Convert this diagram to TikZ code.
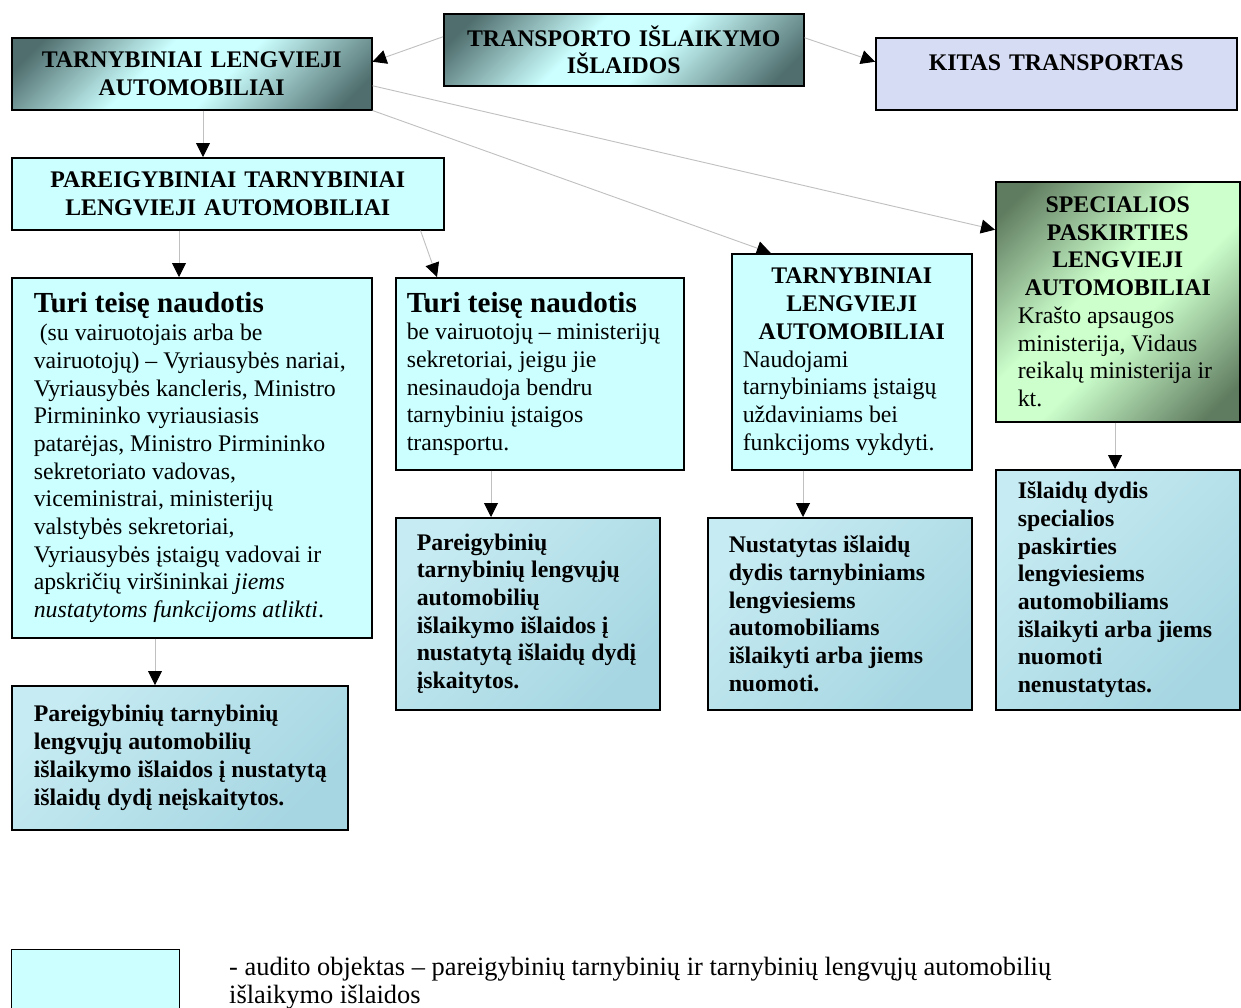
\documentclass[tikz,border=0pt]{standalone}
\usepackage{fontspec}
\setmainfont{Liberation Serif}
\usetikzlibrary{calc,positioning,arrows.meta,shapes}
\setlength{\parindent}{0pt}

\definecolor{cyanbox}{RGB}{204,255,255}
\definecolor{tealdark}{RGB}{80,110,110}
\definecolor{teallight}{RGB}{204,255,255}
\definecolor{greendark}{RGB}{96,124,96}
\definecolor{greenlight}{RGB}{204,255,204}
\definecolor{lavender}{RGB}{214,220,244}
\definecolor{waterlight}{RGB}{198,235,242}
\definecolor{waterdark}{RGB}{166,214,226}
\definecolor{connline}{RGB}{192,192,192}

\pgfdeclarehorizontalshading{tealband}{100bp}{color(0bp)=(tealdark); color(20bp)=(tealdark); color(42bp)=(teallight); color(56bp)=(teallight); color(80bp)=(tealdark); color(100bp)=(tealdark)}
\pgfdeclarehorizontalshading{greenband}{100bp}{color(0bp)=(greendark); color(20bp)=(greendark); color(44bp)=(greenlight); color(56bp)=(greenlight); color(80bp)=(greendark); color(100bp)=(greendark)}
\pgfdeclarehorizontalshading{waterband}{100bp}{color(0bp)=(waterlight); color(25bp)=(waterlight); color(75bp)=(waterdark); color(100bp)=(waterdark)}

\newcommand{\txtsize}{\fontsize{23.8pt}{27.7pt}\selectfont}
\newcommand{\headsize}{\fontsize{29.1pt}{33pt}\selectfont}
\newcommand{\legsize}{\fontsize{26.4pt}{28pt}\selectfont}

\tikzstyle{box}=[draw=black,line width=1.5pt,anchor=north west,inner ysep=0pt,font=\txtsize]

\begin{document}
\begin{tikzpicture}[x=1pt,y=-1pt,
    tealfill/.style={shade,shading=tealband,shading angle=-45},
    greenfill/.style={shade,shading=greenband,shading angle=-45},
    waterfill/.style={shade,shading=waterband,shading angle=-45},
    conn/.style={draw=connline,line width=0.9pt,-{Triangle[length=14pt,width=14pt,color=black,fill=black]}}
    ]

    \useasboundingbox[fill=white] (0,0) rectangle (1241,1007);

    % top row
    \node[box,tealfill,text width=338pt,inner xsep=11pt,minimum height=72pt,align=center,font=\txtsize\bfseries]
      (trans) at (443,13) {TRANSPORTO IŠLAIKYMO\\ IŠLAIDOS};
    \node[box,tealfill,text width=338pt,inner xsep=11pt,minimum height=72pt,align=center,font=\txtsize\bfseries]
      (tla) at (11,37) {TARNYBINIAI LENGVIEJI\\ AUTOMOBILIAI};
    \node[box,fill=lavender,text width=339pt,inner xsep=11pt,minimum height=72pt,align=center,font=\txtsize\bfseries]
      (kitas) at (875,37) {KITAS TRANSPORTAS\\[-6pt] \mbox{}};

    % second row
    \node[box,fill=cyanbox,text width=410pt,inner xsep=11pt,minimum height=72pt,align=center,font=\txtsize\bfseries]
      (pareig) at (11,157) {PAREIGYBINIAI TARNYBINIAI\\ LENGVIEJI AUTOMOBILIAI};

    % who may use them
    \node[box,fill=cyanbox,text width=324pt,inner xsep=18pt,minimum height=360pt,align=flush left]
      (teiseA) at (11,277) {{\headsize\bfseries \hspace*{4pt}Turi teisę naudotis\par}
      \hspace*{10pt}(su vairuotojais arba be\\
      \hspace*{4pt}vairuotojų) – Vyriausybės nariai,\\
      \hspace*{4pt}Vyriausybės kancleris, Ministro\\
      \hspace*{4pt}Pirmininko vyriausiasis\\
      \hspace*{4pt}patarėjas, Ministro Pirmininko\\
      \hspace*{4pt}sekretoriato vadovas,\\
      \hspace*{4pt}viceministrai, ministerijų\\
      \hspace*{4pt}valstybės sekretoriai,\\
      \hspace*{4pt}Vyriausybės įstaigų vadovai ir\\
      \hspace*{4pt}apskričių viršininkai \textit{jiems}\\
      \hspace*{4pt}\textit{nustatytoms funkcijoms atlikti}.};
    \node[box,fill=cyanbox,text width=266pt,inner xsep=11pt,minimum height=192pt,align=flush left]
      (teiseB) at (395,277) {{\headsize\bfseries Turi teisę naudotis\par}
      be vairuotojų – ministerijų\\
      sekretoriai, jeigu jie\\
      nesinaudoja bendru\\
      tarnybiniu įstaigos\\
      transportu.};
    \node[box,fill=cyanbox,text width=218pt,inner xsep=11pt,minimum height=216pt,align=flush left]
      (tarnyb) at (731,253) {{\centering\bfseries TARNYBINIAI\\ LENGVIEJI\\ AUTOMOBILIAI\par}
      Naudojami\\
      tarnybiniams įstaigų\\
      uždaviniams bei\\
      funkcijoms vykdyti.};
    \node[box,greenfill,text width=210pt,inner xsep=17pt,minimum height=240pt,align=flush left]
      (spec) at (995,181) {{\centering\bfseries SPECIALIOS\\ PASKIRTIES\\ LENGVIEJI\\ AUTOMOBILIAI\par}
      \hspace*{5pt}Krašto apsaugos\\
      \hspace*{5pt}ministerija, Vidaus\\
      \hspace*{5pt}reikalų ministerija ir\\
      \hspace*{5pt}kt.};

    % expense limits
    \node[box,waterfill,text width=304pt,inner xsep=16pt,minimum height=144pt,align=flush left,font=\txtsize\bfseries]
      (neisk) at (11,685) {\hspace*{6pt}Pareigybinių tarnybinių\\ \hspace*{6pt}lengvųjų automobilių\\ \hspace*{6pt}išlaikymo išlaidos į nustatytą\\ \hspace*{6pt}išlaidų dydį neįskaitytos.};
    \node[box,waterfill,text width=232pt,inner xsep=16pt,minimum height=192pt,align=flush left,font=\txtsize\bfseries]
      (isk) at (395,517) {\hspace*{5pt}Pareigybinių\\ \hspace*{5pt}tarnybinių lengvųjų\\ \hspace*{5pt}automobilių\\ \hspace*{5pt}išlaikymo išlaidos į\\ \hspace*{5pt}nustatytą išlaidų dydį\\ \hspace*{5pt}įskaitytos.};
    \node[box,waterfill,text width=232pt,inner xsep=16pt,minimum height=192pt,align=flush left,font=\txtsize\bfseries]
      (nust) at (707,517) {\hspace*{5pt}Nustatytas išlaidų\\ \hspace*{5pt}dydis tarnybiniams\\ \hspace*{5pt}lengviesiems\\ \hspace*{5pt}automobiliams\\ \hspace*{5pt}išlaikyti arba jiems\\ \hspace*{5pt}nuomoti.};
    \node[box,waterfill,text width=212pt,inner xsep=16pt,minimum height=240pt,align=flush left,font=\txtsize\bfseries]
      (nenust) at (995,469) {\hspace*{6pt}Išlaidų dydis\\ \hspace*{6pt}specialios\\ \hspace*{6pt}paskirties\\ \hspace*{6pt}lengviesiems\\ \hspace*{6pt}automobiliams\\ \hspace*{6pt}išlaikyti arba jiems\\ \hspace*{6pt}nuomoti\\ \hspace*{6pt}nenustatytas.};

    % connectors
    \draw[conn] ([yshift=13pt]trans.west) -- ([yshift=12pt]tla.east);
    \draw[conn] ([yshift=12pt]trans.east) -- ([yshift=12pt]kitas.west);
    \draw[conn] ([yshift=-12pt]tla.east) -- ([yshift=72pt]spec.west);
    \draw[conn] (tla.south east) -- ([xshift=-81pt]tarnyb.north);
    \draw[conn] ([xshift=-24pt]pareig.south east) -- ([xshift=42pt]teiseB.north west);
    \foreach \from/\to/\x in {tla/pareig/203,pareig/teiseA/179,teiseA/neisk/155,%
        teiseB/isk/491,tarnyb/nust/803,spec/nenust/1115} {
      \draw[conn] (\from.south -| \x,0) -- (\to.north -| \x,0);
    }

    % legend
    \node[box,line width=1pt,fill=cyanbox,minimum width=168pt,minimum height=64pt,inner sep=0pt]
      (legend) at (11,949) {};
    \node[anchor=north west,font=\legsize,align=left,inner sep=0pt]
      (legendtxt) at (229,957) {- audito objektas – pareigybinių tarnybinių ir tarnybinių lengvųjų automobilių\\ išlaikymo išlaidos};

\end{tikzpicture}
\end{document}
